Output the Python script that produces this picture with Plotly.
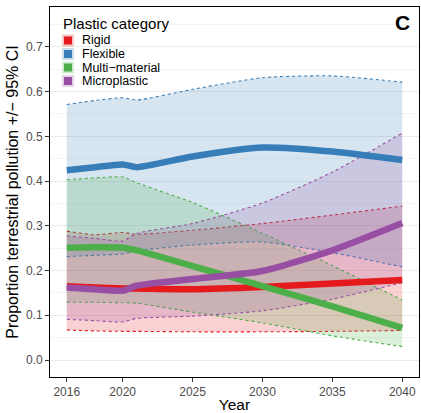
import plotly.graph_objects as go

years = [2016, 2018, 2020, 2021, 2025, 2030, 2035, 2040]

rigid_mean = [0.165, 0.162, 0.160, 0.160, 0.158, 0.163, 0.171, 0.179]
rigid_hi   = [0.288, 0.280, 0.285, 0.281, 0.290, 0.305, 0.324, 0.344]
rigid_lo   = [0.067, 0.065, 0.064, 0.064, 0.063, 0.063, 0.064, 0.066]

flex_mean = [0.424, 0.431, 0.437, 0.431, 0.455, 0.475, 0.466, 0.447]
flex_hi   = [0.571, 0.580, 0.586, 0.581, 0.605, 0.631, 0.635, 0.621]
flex_lo   = [0.231, 0.234, 0.237, 0.244, 0.257, 0.264, 0.240, 0.208]

multi_mean = [0.251, 0.252, 0.251, 0.245, 0.210, 0.165, 0.120, 0.072]
multi_hi   = [0.403, 0.407, 0.409, 0.396, 0.352, 0.283, 0.211, 0.134]
multi_lo   = [0.129, 0.129, 0.128, 0.127, 0.107, 0.083, 0.054, 0.030]

micro_mean = [0.162, 0.158, 0.155, 0.166, 0.181, 0.199, 0.245, 0.306]
micro_hi   = [0.277, 0.272, 0.266, 0.283, 0.305, 0.351, 0.420, 0.507]
micro_lo   = [0.091, 0.088, 0.085, 0.093, 0.098, 0.110, 0.136, 0.173]

categories = ["Rigid", "Flexible", "Multi\u2212material", "Microplastic"]
colors_rgb = [(228, 26, 28), (55, 126, 184), (77, 175, 74), (152, 78, 163)]
means = [rigid_mean, flex_mean, multi_mean, micro_mean]
his = [rigid_hi, flex_hi, multi_hi, micro_hi]
los = [rigid_lo, flex_lo, multi_lo, micro_lo]

x_ticks = [2016, 2020, 2025, 2030, 2035, 2040]
y_ticks = [0.0, 0.1, 0.2, 0.3, 0.4, 0.5, 0.6, 0.7]

def rgba(c, a):
    return f"rgba({c[0]},{c[1]},{c[2]},{a})"

W, H = 421, 413
ML, MR, MT, MB = 50, 2, 7, 36
PW, PH = W - ML - MR, H - MT - MB

def px_x(px):
    return (px - ML) / PW

def px_y(py):
    return 1 - (py - MT) / PH

fig = go.Figure()
line_shape = "spline"
smooth = 0.6

# ribbons
for name, c, lo, hi in zip(categories, colors_rgb, los, his):
    fig.add_trace(go.Scatter(x=years, y=lo, mode="lines", showlegend=False,
                             line=dict(color=rgba(c, 1), width=1.1, dash="3px,3px",
                                       shape=line_shape, smoothing=smooth),
                             hoverinfo="skip"))
    fig.add_trace(go.Scatter(x=years, y=hi, mode="lines", showlegend=False,
                             fill="tonexty", fillcolor=rgba(c, 0.2),
                             line=dict(color=rgba(c, 1), width=1.1, dash="3px,3px",
                                       shape=line_shape, smoothing=smooth),
                             hoverinfo="skip"))

# mean lines
for name, c, m in zip(categories, colors_rgb, means):
    fig.add_trace(go.Scatter(x=years, y=m, mode="lines", name=name, showlegend=False,
                             line=dict(color=rgba(c, 1), width=6.5,
                                       shape=line_shape, smoothing=smooth)))

# custom legend (title, keys, labels) in paper coordinates
annotations = [dict(text="Plastic category", x=px_x(61), y=px_y(24), xref="paper", yref="paper",
                    xanchor="left", yanchor="middle", showarrow=False,
                    font=dict(size=15, color="black"))]
shapes = []
row_y = [40.5, 54, 67.5, 81]
for name, c, ry in zip(categories, colors_rgb, row_y):
    shapes.append(dict(type="rect", xref="paper", yref="paper",
                       x0=px_x(62), x1=px_x(74), y0=px_y(ry - 6), y1=px_y(ry + 6),
                       fillcolor=rgba(c, 0.25), line=dict(width=0), layer="above"))
    shapes.append(dict(type="rect", xref="paper", yref="paper",
                       x0=px_x(64), x1=px_x(72), y0=px_y(ry - 4), y1=px_y(ry + 4),
                       fillcolor=rgba(c, 1), line=dict(width=0), layer="above"))
    annotations.append(dict(text=name, x=px_x(80), y=px_y(ry), xref="paper", yref="paper",
                            xanchor="left", yanchor="middle", showarrow=False,
                            font=dict(size=12.5, color="black")))

annotations.append(dict(text="<b>C</b>", x=px_x(402), y=px_y(22), xref="paper", yref="paper",
                        showarrow=False, font=dict(size=21, color="black"),
                        xanchor="center", yanchor="middle"))

fig.update_layout(
    width=W, height=H,
    margin=dict(l=ML, r=MR, t=MT, b=MB),
    paper_bgcolor="white", plot_bgcolor="white",
    font=dict(family="Liberation Sans, Arial, sans-serif", color="black"),
    showlegend=False,
    annotations=annotations,
    shapes=shapes,
)

fig.update_xaxes(
    range=[2014.8, 2041.2], tickvals=x_ticks, ticktext=[str(v) for v in x_ticks],
    showgrid=False, zeroline=False, automargin=False,
    showline=True, linecolor="black", linewidth=1, mirror=True,
    ticks="outside", ticklen=4, tickcolor="#333333",
    tickfont=dict(size=12, color="#4D4D4D"),
    title=dict(text="Year", font=dict(size=15.5), standoff=2),
)
fig.update_yaxes(
    range=[-0.038, 0.789], tickvals=y_ticks, ticktext=[f"{v:.1f}" for v in y_ticks],
    showgrid=True, gridcolor="#EBEBEB", gridwidth=1,
    minor=dict(tickvals=[0.05, 0.15, 0.25, 0.35, 0.45, 0.55, 0.65, 0.75],
               showgrid=True, gridcolor="#F5F5F5", gridwidth=0.6, ticks=""),
    zeroline=False, automargin=False,
    showline=True, linecolor="black", linewidth=1, mirror=True,
    ticks="outside", ticklen=4, tickcolor="#333333",
    tickfont=dict(size=12, color="#4D4D4D"),
    title=dict(text="Proportion terrestrial pollution +/\u2212 95% CI", font=dict(size=16), standoff=3),
)

fig.write_html("out.html", config={"displayModeBar": False},
               post_script="document.body.style.margin='0';document.body.style.overflow='hidden';")
